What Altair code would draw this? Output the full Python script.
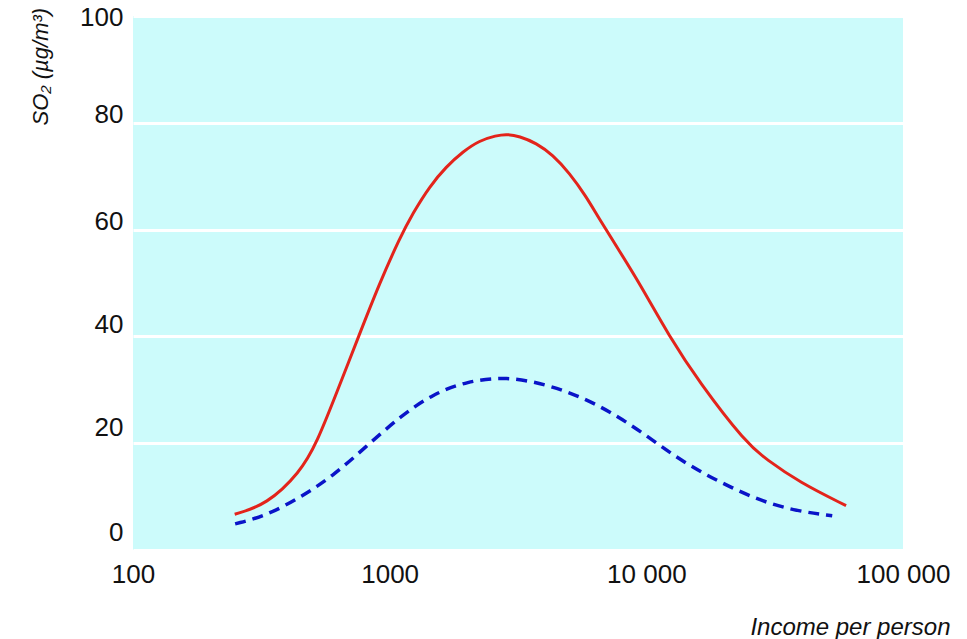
import altair as alt
import pandas as pd

# Red solid curve (income per person, SO2 µg/m3)
red_income = [249, 332, 447, 520, 628, 757, 914, 1094, 1232, 1431, 1662, 1929, 2240,
              2602, 2845, 3205, 3723, 4319, 5016, 5827, 6465, 7900, 9393, 12290,
              16080, 24500, 29310, 39380, 60010]
red_so2 = [6.7, 8.5, 14.5, 20, 30, 40, 50, 58.4, 63.1, 68.1, 71.8, 74.6, 76.7,
           77.6, 77.9, 77.5, 76.2, 74, 70.6, 66.2, 62.5, 55.8, 50, 40,
           31.4, 20, 17, 12.7, 8.3]

# Blue dashed curve
blue_income = [250, 330, 450, 600, 810, 1100, 1470, 2000, 2850, 4080, 5500, 7300,
               9650, 12600, 16400, 21400, 28300, 38400, 53000]
blue_so2 = [4.9, 6.4, 9.9, 13.8, 19.4, 25, 29.2, 31.6, 32.5, 31.0, 28.8, 25.8,
            22.0, 17.9, 14.5, 11.7, 9.1, 7.3, 6.4]

x_ticks = [100, 1000, 10000, 100000]
x_tick_labels = ["100", "1000", "10 000", "100 000"]
y_ticks = [0, 20, 40, 60, 80, 100]

red_df = pd.DataFrame({"income": red_income, "so2": red_so2})
blue_df = pd.DataFrame({"income": blue_income, "so2": blue_so2})

label_expr = " : ".join(
    f"datum.value == {v} ? '{l}'" for v, l in zip(x_ticks, x_tick_labels)
) + " : datum.label"

FONT = "Liberation Sans, Arial, sans-serif"

x_enc = alt.X(
    "income:Q",
    scale=alt.Scale(type="log", domain=[100, 100000], nice=False),
    axis=alt.Axis(
        values=x_ticks,
        labelExpr=label_expr,
        grid=False,
        domain=False,
        ticks=False,
        tickSize=0,
        labelFont=FONT,
        labelFontSize=26,
        labelColor="#111111",
        labelBaseline="alphabetic",
        labelPadding=32,
        labelFlush=False,
        labelOverlap=False,
        title="Income per person",
        titleFont=FONT,
        titleFontSize=24,
        titleFontStyle="italic",
        titleFontWeight="normal",
        titleColor="#111111",
        titleAlign="right",
        titleBaseline="alphabetic",
        titleAnchor="end",
        titleX=817,
        titleY=84,
    ),
)

y_label_offset = {
    "condition": [
        {"test": "datum.value == 100", "value": 9},
        {"test": "datum.value == 40", "value": -4},
        {"test": "datum.value == 20", "value": -8},
        {"test": "datum.value == 0", "value": -10},
    ],
    "value": 0,
}

y_enc = alt.Y(
    "so2:Q",
    scale=alt.Scale(domain=[0, 100], nice=False),
    axis=alt.Axis(
        values=y_ticks,
        grid=True,
        gridColor="#ffffff",
        gridWidth=3,
        gridOpacity=1,
        domain=False,
        ticks=False,
        tickSize=0,
        labelFont=FONT,
        labelFontSize=26,
        labelColor="#111111",
        labelBaseline="alphabetic",
        labelAlign="right",
        labelPadding=10,
        labelOffset=y_label_offset,
        labelFlush=False,
        title="SO₂ (µg/m³)",
        titleFont=FONT,
        titleFontSize=22,
        titleFontStyle="italic",
        titleFontWeight="normal",
        titleColor="#111111",
        titleAngle=270,
        titleAlign="left",
        titleBaseline="middle",
        titleX=-93,
        titleY=109,
    ),
)

red = alt.Chart(red_df).mark_line(
    color="#e3241b", strokeWidth=3, interpolate="basis"
).encode(x=x_enc, y=y_enc)

blue = alt.Chart(blue_df).mark_line(
    color="#0a14c8", strokeWidth=3.5, strokeDash=[11, 7], interpolate="basis"
).encode(x=alt.X("income:Q"), y=alt.Y("so2:Q"))

chart = (
    alt.layer(red, blue)
    .properties(
        width=770,
        height=534,
        autosize=alt.AutoSizeParams(type="none"),
        padding={"left": 133, "top": 16, "right": 64, "bottom": 89},
        background="#ffffff",
    )
    .configure_view(fill="#ccfbfb", stroke=None)
)

chart.save("out.html", embed_options={"renderer": "svg", "actions": False})
